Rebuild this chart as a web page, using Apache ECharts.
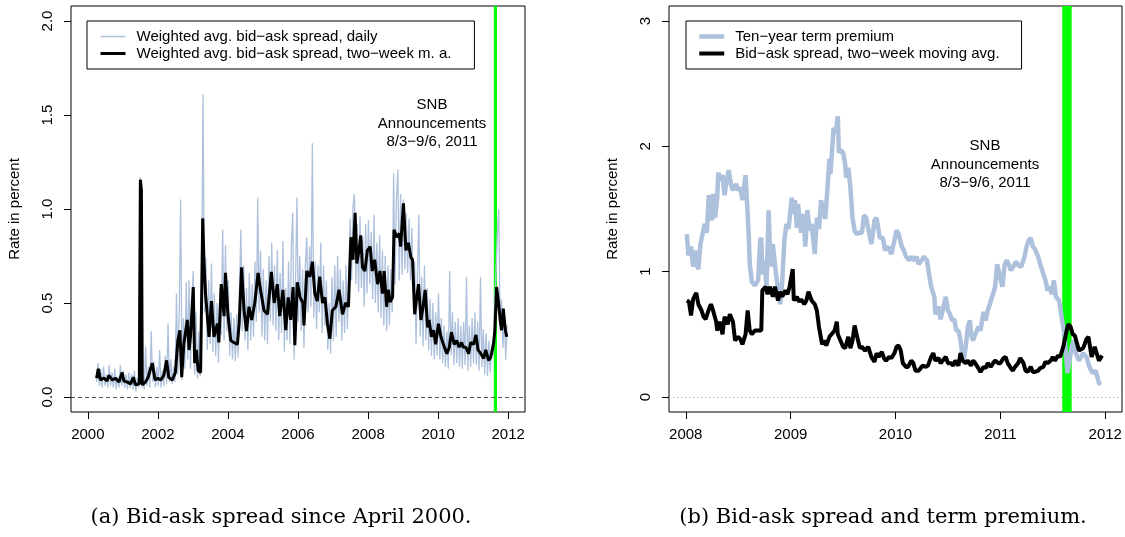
<!DOCTYPE html>
<html>
<head>
<meta charset="utf-8">
<script src="https://cdn.jsdelivr.net/npm/echarts@6/dist/echarts.min.js"></script>
<style>
  html, body { margin: 0; padding: 0; background: #fff; }
  #chart { width: 1125px; height: 537px; }
</style>
</head>
<body>
<div id="chart"></div>
<script>
// panel (a): daily spread, one reading every DAILY_STEP years from DAILY_START
const DAILY_START = 2000.25;
const DAILY_STEP = 0.04;
const dailySpread = [
  0.08, 0.18, 0.06, 0.15, 0.05, 0.16, 0.06, 0.12, 0.05, 0.17, 0.06, 0.13, 0.05, 0.15, 0.04, 0.11, 0.05, 0.17, 0.06, 0.14, 0.05, 0.12, 0.04, 0.13, 0.05,
  0.12, 0.04, 0.14, 0.03, 0.10, 0.05, 1.17, 0.05, 0.11, 0.04, 0.27, 0.06, 0.16, 0.05, 0.35, 0.08, 0.19, 0.05, 0.16, 0.06, 0.25, 0.05, 0.14, 0.06, 0.22,
  0.07, 0.39, 0.08, 0.20, 0.07, 0.16, 0.08, 0.55, 0.12, 0.45, 1.05, 0.09, 0.42, 0.15, 0.61, 0.20, 0.62, 0.15, 0.50, 0.67, 0.12, 0.45, 0.10, 0.35, 0.11,
  0.60, 1.61, 0.45, 0.74, 0.25, 0.62, 0.28, 0.71, 0.24, 0.55, 0.22, 0.50, 0.18, 0.58, 0.33, 0.89, 0.30, 0.81, 0.35, 0.62, 0.22, 0.45, 0.20, 0.42, 0.19,
  0.44, 0.21, 0.60, 0.89, 0.35, 0.70, 0.30, 0.58, 0.25, 0.66, 0.30, 0.60, 0.32, 0.72, 0.40, 1.06, 0.45, 0.78, 0.32, 0.68, 0.30, 0.62, 0.28, 0.75, 0.40,
  0.82, 0.38, 0.70, 0.35, 0.78, 0.30, 0.66, 0.34, 0.83, 0.24, 0.58, 0.30, 0.72, 0.28, 0.80, 0.98, 0.20, 0.62, 1.06, 0.40, 0.75, 0.35, 0.68, 0.26, 0.70,
  0.85, 0.45, 0.80, 0.48, 1.35, 0.42, 0.72, 0.36, 0.70, 0.45, 0.82, 0.34, 0.70, 0.38, 0.62, 0.25, 0.50, 0.23, 0.64, 0.30, 0.70, 0.32, 0.75, 0.40, 0.68,
  0.30, 0.62, 0.34, 0.70, 0.36, 0.65, 0.95, 0.62, 1.02, 1.08, 0.60, 0.92, 0.56, 0.96, 0.58, 0.85, 0.48, 0.92, 0.55, 0.94, 0.60, 0.88, 0.52, 0.97, 0.50,
  0.82, 0.45, 0.86, 0.42, 0.78, 0.38, 0.75, 0.35, 0.70, 0.38, 0.68, 0.45, 1.19, 0.60, 1.05, 1.21, 0.62, 1.08, 0.65, 1.05, 0.68, 0.98, 0.66, 0.95, 0.62,
  0.90, 0.55, 0.72, 0.28, 0.66, 0.97, 0.32, 0.64, 0.27, 0.70, 0.30, 0.58, 0.25, 0.52, 0.22, 0.50, 0.20, 0.45, 0.22, 0.55, 0.20, 0.42, 0.18, 0.38, 0.16,
  0.35, 0.15, 0.67, 0.22, 0.45, 0.17, 0.40, 0.18, 0.42, 0.16, 0.38, 0.15, 0.40, 0.17, 0.64, 0.14, 0.38, 0.16, 0.42, 0.18, 0.45, 0.17, 0.40, 0.14, 0.64,
  0.16, 0.36, 0.12, 0.34, 0.11, 0.30, 0.13, 0.28, 0.22, 0.48, 0.65, 0.87, 1.00, 0.38, 0.52, 0.26, 0.42, 0.20, 0.38
];

// panel (a): two-week moving average, [year, percent]
const spreadMA = [
  [2000.25,0.10],[2000.30,0.15],[2000.36,0.09],[2000.46,0.10],[2000.55,0.085],[2000.60,0.115],[2000.70,0.09],[2000.79,0.10],
  [2000.89,0.08],[2000.98,0.13],[2001.03,0.085],[2001.12,0.08],[2001.22,0.07],[2001.30,0.105],[2001.36,0.065],[2001.47,0.07],
  [2001.50,1.156],[2001.53,1.10],[2001.555,0.065],[2001.65,0.08],[2001.72,0.105],[2001.84,0.18],[2001.92,0.09],[2002.00,0.10],
  [2002.08,0.09],[2002.17,0.115],[2002.25,0.195],[2002.31,0.105],[2002.41,0.09],[2002.50,0.13],[2002.57,0.30],[2002.63,0.355],
  [2002.68,0.105],[2002.74,0.28],[2002.84,0.41],[2002.89,0.25],[2002.93,0.32],[2003.01,0.585],[2003.05,0.18],[2003.10,0.25],
  [2003.15,0.14],[2003.22,0.13],[2003.28,0.95],[2003.32,0.70],[2003.36,0.55],[2003.46,0.32],[2003.53,0.51],[2003.60,0.32],
  [2003.70,0.39],[2003.74,0.29],[2003.81,0.60],[2003.89,0.43],[2003.93,0.66],[2004.00,0.44],[2004.08,0.30],[2004.17,0.29],
  [2004.27,0.28],[2004.32,0.39],[2004.39,0.69],[2004.46,0.46],[2004.53,0.35],[2004.60,0.48],[2004.68,0.41],[2004.77,0.505],
  [2004.86,0.66],[2004.93,0.57],[2005.03,0.46],[2005.13,0.44],[2005.24,0.665],[2005.32,0.50],[2005.41,0.60],[2005.48,0.43],
  [2005.57,0.57],[2005.65,0.355],[2005.72,0.53],[2005.79,0.41],[2005.86,0.585],[2005.91,0.275],[2005.98,0.61],[2006.06,0.53],
  [2006.14,0.50],[2006.17,0.38],[2006.25,0.67],[2006.34,0.64],[2006.41,0.72],[2006.48,0.55],[2006.55,0.51],[2006.62,0.64],
  [2006.70,0.50],[2006.77,0.53],[2006.84,0.39],[2006.91,0.31],[2006.98,0.46],[2007.08,0.48],[2007.17,0.57],[2007.27,0.44],
  [2007.36,0.50],[2007.44,0.48],[2007.51,0.85],[2007.57,0.73],[2007.63,0.98],[2007.68,0.71],[2007.74,0.78],[2007.79,0.86],
  [2007.84,0.69],[2007.91,0.67],[2007.98,0.78],[2008.06,0.80],[2008.12,0.67],[2008.19,0.73],[2008.27,0.60],[2008.34,0.67],
  [2008.41,0.55],[2008.46,0.67],[2008.53,0.48],[2008.58,0.57],[2008.63,0.505],[2008.70,0.53],[2008.74,0.89],[2008.82,0.85],
  [2008.89,0.87],[2008.93,0.80],[2009.01,1.03],[2009.08,0.78],[2009.15,0.82],[2009.22,0.745],[2009.27,0.73],[2009.33,0.44],
  [2009.39,0.53],[2009.44,0.60],[2009.51,0.41],[2009.57,0.48],[2009.63,0.57],[2009.70,0.37],[2009.74,0.41],[2009.81,0.32],
  [2009.87,0.355],[2009.93,0.28],[2010.01,0.39],[2010.08,0.32],[2010.15,0.28],[2010.25,0.23],[2010.32,0.265],[2010.38,0.345],
  [2010.46,0.28],[2010.53,0.30],[2010.60,0.265],[2010.67,0.29],[2010.72,0.265],[2010.79,0.265],[2010.87,0.23],[2010.93,0.29],
  [2011.01,0.28],[2011.08,0.33],[2011.14,0.25],[2011.22,0.23],[2011.30,0.205],[2011.36,0.25],[2011.44,0.195],[2011.50,0.21],
  [2011.58,0.28],[2011.62,0.355],[2011.67,0.585],[2011.72,0.51],[2011.77,0.41],[2011.81,0.355],[2011.86,0.47],[2011.92,0.355],
  [2011.96,0.32]
];

// panel (b): ten-year term premium, [year, percent]
const termPremium = [
  [2008.01,1.30],[2008.025,1.13],[2008.05,1.20],[2008.07,1.04],[2008.09,1.17],[2008.10,1.06],[2008.12,1.02],[2008.14,1.22],
  [2008.16,1.30],[2008.18,1.38],[2008.20,1.31],[2008.22,1.61],[2008.23,1.51],[2008.25,1.41],[2008.26,1.62],[2008.28,1.43],
  [2008.30,1.59],[2008.31,1.79],[2008.33,1.73],[2008.35,1.77],[2008.37,1.61],[2008.39,1.73],[2008.41,1.81],[2008.43,1.70],
  [2008.45,1.65],[2008.48,1.70],[2008.50,1.65],[2008.52,1.67],[2008.54,1.57],[2008.57,1.77],[2008.58,1.62],[2008.60,1.30],
  [2008.61,1.06],[2008.63,0.92],[2008.66,0.89],[2008.69,0.93],[2008.71,1.25],[2008.72,1.27],[2008.73,0.98],[2008.75,1.09],
  [2008.77,0.88],[2008.79,1.49],[2008.80,1.25],[2008.82,1.04],[2008.83,1.22],[2008.85,1.06],[2008.88,0.85],[2008.90,0.74],
  [2008.92,0.92],[2008.94,1.25],[2008.96,1.38],[2008.98,1.34],[2009.01,1.59],[2009.03,1.46],[2009.04,1.57],[2009.06,1.35],
  [2009.07,1.54],[2009.10,1.31],[2009.12,1.46],[2009.14,1.20],[2009.16,1.49],[2009.18,1.33],[2009.20,1.38],[2009.23,1.14],
  [2009.25,1.43],[2009.27,1.34],[2009.29,1.57],[2009.31,1.49],[2009.33,1.42],[2009.35,1.65],[2009.37,1.90],[2009.38,1.78],
  [2009.41,2.15],[2009.43,2.11],[2009.45,2.24],[2009.46,1.95],[2009.48,1.97],[2009.50,1.95],[2009.52,1.86],[2009.53,1.75],
  [2009.55,1.83],[2009.57,1.67],[2009.59,1.43],[2009.61,1.33],[2009.63,1.30],[2009.65,1.31],[2009.68,1.31],[2009.70,1.45],
  [2009.72,1.43],[2009.75,1.30],[2009.77,1.22],[2009.80,1.41],[2009.82,1.43],[2009.85,1.27],[2009.88,1.27],[2009.90,1.17],
  [2009.93,1.20],[2009.96,1.14],[2009.99,1.25],[2010.01,1.33],[2010.03,1.30],[2010.06,1.20],[2010.08,1.17],[2010.10,1.12],
  [2010.13,1.09],[2010.15,1.12],[2010.18,1.09],[2010.20,1.12],[2010.22,1.06],[2010.25,1.09],[2010.27,1.12],[2010.30,1.09],
  [2010.32,0.98],[2010.34,0.88],[2010.37,0.80],[2010.38,0.66],[2010.41,0.72],[2010.43,0.62],[2010.45,0.69],[2010.48,0.80],
  [2010.50,0.69],[2010.52,0.66],[2010.54,0.61],[2010.56,0.62],[2010.58,0.53],[2010.60,0.53],[2010.62,0.45],[2010.64,0.32],
  [2010.65,0.29],[2010.67,0.40],[2010.69,0.56],[2010.71,0.61],[2010.72,0.50],[2010.74,0.45],[2010.76,0.50],[2010.79,0.56],
  [2010.81,0.53],[2010.84,0.68],[2010.86,0.61],[2010.88,0.69],[2010.91,0.77],[2010.93,0.82],[2010.95,0.88],[2010.97,1.06],
  [2010.99,0.98],[2011.02,0.88],[2011.04,1.05],[2011.06,1.09],[2011.08,1.06],[2011.10,1.01],[2011.13,1.05],[2011.15,1.08],
  [2011.17,1.05],[2011.20,1.04],[2011.23,1.12],[2011.25,1.20],[2011.27,1.25],[2011.29,1.27],[2011.31,1.20],[2011.33,1.18],
  [2011.36,1.12],[2011.38,1.06],[2011.41,0.98],[2011.43,0.93],[2011.45,0.85],[2011.47,0.88],[2011.49,0.82],[2011.51,0.93],
  [2011.53,0.80],[2011.56,0.77],[2011.58,0.66],[2011.61,0.50],[2011.63,0.29],[2011.64,0.19],[2011.66,0.29],[2011.68,0.40],
  [2011.70,0.45],[2011.72,0.35],[2011.75,0.29],[2011.79,0.35],[2011.82,0.32],[2011.85,0.24],[2011.88,0.19],[2011.91,0.21],
  [2011.94,0.11],[2011.96,0.10]
];

// panel (b): bid-ask spread, two-week moving average, [year, percent]
const spreadMA08 = [
  [2008.01,0.77],[2008.03,0.76],[2008.05,0.65],[2008.07,0.78],[2008.10,0.83],[2008.12,0.74],[2008.15,0.69],[2008.17,0.64],
  [2008.19,0.62],[2008.22,0.70],[2008.24,0.74],[2008.26,0.69],[2008.29,0.60],[2008.30,0.53],[2008.33,0.60],[2008.35,0.50],
  [2008.37,0.64],[2008.40,0.58],[2008.42,0.66],[2008.45,0.60],[2008.47,0.45],[2008.50,0.48],[2008.52,0.46],[2008.54,0.42],
  [2008.57,0.50],[2008.59,0.69],[2008.61,0.53],[2008.63,0.50],[2008.66,0.53],[2008.69,0.53],[2008.72,0.53],[2008.73,0.85],
  [2008.76,0.88],[2008.78,0.82],[2008.80,0.88],[2008.83,0.80],[2008.85,0.88],[2008.88,0.77],[2008.90,0.84],[2008.92,0.80],
  [2008.95,0.85],[2008.97,0.82],[2008.99,0.88],[2009.02,1.02],[2009.03,0.77],[2009.06,0.80],[2009.08,0.76],[2009.10,0.78],
  [2009.13,0.74],[2009.15,0.77],[2009.17,0.84],[2009.20,0.77],[2009.23,0.74],[2009.25,0.69],[2009.27,0.56],[2009.30,0.42],
  [2009.32,0.45],[2009.34,0.41],[2009.37,0.48],[2009.39,0.50],[2009.42,0.53],[2009.44,0.60],[2009.45,0.50],[2009.48,0.44],
  [2009.50,0.40],[2009.52,0.39],[2009.55,0.48],[2009.57,0.39],[2009.59,0.45],[2009.61,0.57],[2009.64,0.46],[2009.66,0.39],
  [2009.68,0.40],[2009.71,0.37],[2009.74,0.40],[2009.77,0.32],[2009.80,0.28],[2009.82,0.35],[2009.84,0.32],[2009.87,0.36],
  [2009.89,0.31],[2009.91,0.29],[2009.94,0.32],[2009.96,0.31],[2009.99,0.35],[2010.01,0.40],[2010.03,0.41],[2010.05,0.37],
  [2010.07,0.27],[2010.10,0.24],[2010.12,0.24],[2010.15,0.29],[2010.17,0.27],[2010.19,0.21],[2010.22,0.21],[2010.24,0.23],
  [2010.26,0.25],[2010.29,0.24],[2010.31,0.25],[2010.34,0.32],[2010.36,0.35],[2010.38,0.29],[2010.41,0.31],[2010.43,0.27],
  [2010.45,0.29],[2010.48,0.32],[2010.50,0.27],[2010.53,0.27],[2010.55,0.25],[2010.57,0.29],[2010.60,0.25],[2010.62,0.35],
  [2010.64,0.29],[2010.67,0.27],[2010.69,0.29],[2010.72,0.25],[2010.74,0.29],[2010.76,0.27],[2010.79,0.23],[2010.81,0.20],
  [2010.84,0.24],[2010.86,0.23],[2010.88,0.27],[2010.91,0.24],[2010.93,0.27],[2010.95,0.29],[2010.98,0.27],[2011.00,0.27],
  [2011.03,0.31],[2011.05,0.32],[2011.07,0.27],[2011.10,0.23],[2011.12,0.21],[2011.14,0.24],[2011.17,0.27],[2011.19,0.31],
  [2011.22,0.27],[2011.24,0.21],[2011.26,0.20],[2011.29,0.24],[2011.31,0.20],[2011.33,0.20],[2011.36,0.21],[2011.38,0.23],
  [2011.41,0.24],[2011.43,0.28],[2011.45,0.27],[2011.48,0.29],[2011.50,0.32],[2011.52,0.29],[2011.55,0.33],[2011.57,0.32],
  [2011.60,0.40],[2011.62,0.48],[2011.64,0.56],[2011.65,0.58],[2011.67,0.56],[2011.69,0.50],[2011.71,0.49],[2011.74,0.40],
  [2011.75,0.37],[2011.79,0.39],[2011.82,0.46],[2011.84,0.48],[2011.87,0.32],[2011.90,0.40],[2011.94,0.29],[2011.97,0.33]
];

// SNB announcement window (8/3 - 9/6, 2011) as decimal years
const snbWindow = [2011.59, 2011.68];

// axis ticks
const xTicksA = [2000, 2002, 2004, 2006, 2008, 2010, 2012];
const yTicksA = [0, 0.5, 1, 1.5, 2];
const xTicksB = [2008, 2009, 2010, 2011, 2012];
const yTicksB = [0, 1, 2, 3];

const NAMES = {
  daily: 'Weighted avg. bid−ask spread, daily',
  ma: 'Weighted avg. bid−ask spread, two−week m. a.',
  tp: 'Ten−year term premium',
  maB: 'Bid−ask spread, two−week moving avg.'
};
const SNB_TEXT = 'SNB\nAnnouncements\n8/3−9/6, 2011';

const SANS = '"Liberation Sans", Arial, sans-serif';
const SERIF = '"DejaVu Serif", "Liberation Serif", serif';
const STEEL = '#adc0dc';
const GREEN = '#00ff00';

const dailyData = dailySpread.map((v, i) => [DAILY_START + i * DAILY_STEP, v]);

function xAxisOf(idx, min, max, ticks) {
  return {
    type: 'value', gridIndex: idx, min, max,
    axisLine: { show: false, onZero: false },
    splitLine: { show: false },
    axisTick: { show: true, length: 7, customValues: ticks, lineStyle: { color: '#000', width: 1 } },
    axisLabel: { customValues: ticks, margin: 15, color: '#000', fontSize: 15, fontFamily: SANS, formatter: v => String(v) }
  };
}

function yAxisOf(idx, min, max, ticks, fmt) {
  return {
    type: 'value', gridIndex: idx, min, max,
    name: 'Rate in percent', nameLocation: 'middle', nameGap: 49,
    nameTextStyle: { color: '#000', fontSize: 15, fontFamily: SANS },
    axisLine: { show: false, onZero: false },
    splitLine: { show: false },
    axisTick: { show: true, length: 7, customValues: ticks, lineStyle: { color: '#000', width: 1 } },
    axisLabel: { customValues: ticks, rotate: 90, margin: 16, color: '#000', fontSize: 15, fontFamily: SANS, formatter: fmt }
  };
}

// empty series that only carries the green window and the zero line
function guideSeries(idx, zeroStyle) {
  return {
    type: 'line', xAxisIndex: idx, yAxisIndex: idx, data: [], z: 1, silent: true,
    markArea: {
      silent: true, label: { show: false },
      itemStyle: { color: GREEN, opacity: 1 },
      data: [[{ xAxis: snbWindow[0] }, { xAxis: snbWindow[1] }]]
    },
    markLine: {
      silent: true, symbol: 'none', label: { show: false },
      lineStyle: zeroStyle,
      data: [{ yAxis: 0 }]
    }
  };
}

function legendOf(left, names, widths, pad) {
  return {
    left, top: 21, orient: 'vertical', selectedMode: false,
    borderColor: '#000', borderWidth: 1, borderRadius: 0,
    padding: pad, itemGap: 2, itemWidth: 25, itemHeight: 15,
    textStyle: { color: '#000', fontSize: 15, fontFamily: SANS, padding: [0, 0, 0, 6] },
    data: names.map((n, i) => ({ name: n, itemStyle: { opacity: 0 }, lineStyle: { width: widths[i] } }))
  };
}

const chart = echarts.init(document.getElementById('chart'));
chart.setOption({
  animation: false,
  backgroundColor: '#fff',
  grid: [
    { left: 71, top: 6, width: 454, height: 406, show: true, borderColor: '#000', borderWidth: 1, backgroundColor: 'transparent' },
    { left: 669, top: 6, width: 453, height: 406, show: true, borderColor: '#000', borderWidth: 1, backgroundColor: 'transparent' }
  ],
  xAxis: [
    xAxisOf(0, 1999.52, 2012.48, xTicksA),
    xAxisOf(1, 2007.84, 2012.16, xTicksB)
  ],
  yAxis: [
    yAxisOf(0, -0.08, 2.08, yTicksA, v => v.toFixed(1)),
    yAxisOf(1, -0.12, 3.12, yTicksB, v => String(v))
  ],
  legend: [
    legendOf(87, [NAMES.daily, NAMES.ma], [1.5, 3], [8, 23, 8, 12]),
    legendOf(686, [NAMES.tp, NAMES.maB], [4.5, 4], [8, 22, 8, 11])
  ],
  series: [
    guideSeries(0, { color: '#555', width: 1.2, type: [4, 3] }),
    {
      name: NAMES.daily, type: 'line', xAxisIndex: 0, yAxisIndex: 0, z: 3,
      data: dailyData, showSymbol: false, symbol: 'none',
      lineStyle: { color: STEEL, width: 1.3 }, itemStyle: { color: STEEL }
    },
    {
      name: NAMES.ma, type: 'line', xAxisIndex: 0, yAxisIndex: 0, z: 4,
      data: spreadMA, showSymbol: false, symbol: 'none',
      lineStyle: { color: '#000', width: 3 }, itemStyle: { color: '#000' }
    },
    guideSeries(1, { color: '#aaa', width: 1, type: [1, 3] }),
    {
      name: NAMES.tp, type: 'line', xAxisIndex: 1, yAxisIndex: 1, z: 3,
      data: termPremium, showSymbol: false, symbol: 'none',
      lineStyle: { color: STEEL, width: 4.5 }, itemStyle: { color: STEEL }
    },
    {
      name: NAMES.maB, type: 'line', xAxisIndex: 1, yAxisIndex: 1, z: 4,
      data: spreadMA08, showSymbol: false, symbol: 'none',
      lineStyle: { color: '#000', width: 4 }, itemStyle: { color: '#000' }
    }
  ],
  graphic: [
    { type: 'text', x: 432, y: 96, style: { text: SNB_TEXT, fill: '#000', font: '15px ' + SANS, textAlign: 'center', lineHeight: 18.5 } },
    { type: 'text', x: 985, y: 137, style: { text: SNB_TEXT, fill: '#000', font: '15px ' + SANS, textAlign: 'center', lineHeight: 18.5 } },
    { type: 'text', x: 281, y: 507, style: { text: '(a) Bid-ask spread since April 2000.', fill: '#000', font: '21px ' + SERIF, textAlign: 'center' } },
    { type: 'text', x: 883, y: 507, style: { text: '(b) Bid-ask spread and term premium.', fill: '#000', font: '21px ' + SERIF, textAlign: 'center' } }
  ]
});
</script>
</body>
</html>
